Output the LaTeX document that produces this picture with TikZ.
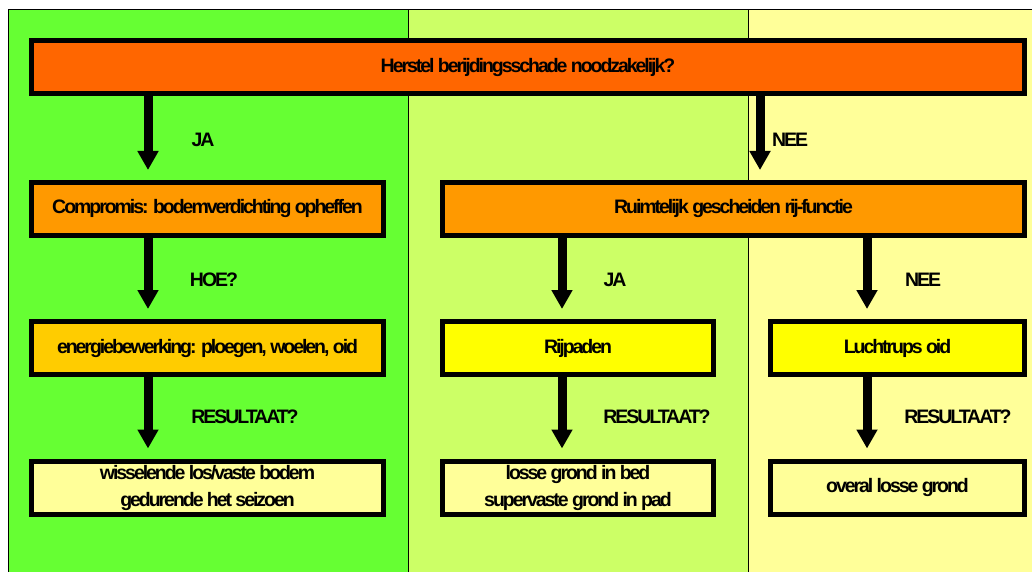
\documentclass[tikz,border=0pt]{standalone}
\usepackage{fontspec}
\setmainfont{Liberation Sans}
\newfontfamily\chartfont[LetterSpace=-10.5]{Liberation Sans Bold}
\usetikzlibrary{arrows.meta}

\definecolor{leftpanel}{HTML}{66FF33}
\definecolor{midpanel}{HTML}{CCFF66}
\definecolor{rightpanel}{HTML}{FFFF99}
\definecolor{question}{HTML}{FF6600}
\definecolor{choice}{HTML}{FF9900}
\definecolor{method}{HTML}{FFCC00}
\definecolor{option}{HTML}{FFFF00}
\definecolor{outcome}{HTML}{FFFF99}

\tikzset{
  panel/.style={draw=black, line width=1pt},
  box/.style={draw=black, line width=5pt, inner sep=0pt, align=center,
    font=\chartfont\fontsize{19.5}{27}\selectfont, minimum height=53pt},
  answer/.style={font=\chartfont\fontsize{19.5}{22}\selectfont, inner sep=0pt},
  flow/.style={line width=9pt, shorten >=10pt,
    -{Triangle[width=20pt,length=19pt]}},
}

\begin{document}
\begin{tikzpicture}[x=1pt,y=-1pt]
  \useasboundingbox (0,0) rectangle (1032,572);
  \fill[white] (0,0) rectangle (1032,572);

  % three coloured columns
  \begin{scope}
    \clip (0,0) rectangle (1032,572);
    \draw[panel, fill=leftpanel]  (8,10)   rectangle (408,590);
    \draw[panel, fill=midpanel]   (408,10) rectangle (748,590);
    \draw[panel, fill=rightpanel] (748,10) rectangle (1045,590);
  \end{scope}

  % boxes
  \node[box, fill=question, minimum width=993pt] (top) at (528,67.5)
    {Herstel berijdingsschade noodzakelijk?};
  \node[box, fill=choice, minimum width=352pt] (comp) at (207.5,209)
    {Compromis: bodemverdichting opheffen};
  \node[box, fill=choice, minimum width=582pt] (ruim) at (733.5,209)
    {Ruimtelijk gescheiden rij-functie};
  \node[box, fill=method, minimum width=352pt] (energ) at (207.5,348)
    {energiebewerking: ploegen, woelen, oid};
  \node[box, fill=option, minimum width=271pt] (rij) at (578,348)
    {Rijpaden};
  \node[box, fill=option, minimum width=254pt] (lucht) at (897.5,348)
    {Luchtrups oid};
  \node[box, fill=outcome, minimum width=352pt] (res1) at (207.5,487.5)
    {wisselende los/vaste bodem\\gedurende het seizoen};
  \node[box, fill=outcome, minimum width=271pt] (res2) at (578,487.5)
    {losse grond in bed\\supervaste grond in pad};
  \node[box, fill=outcome, minimum width=254pt] (res3) at (897.5,487.5)
    {overal losse grond};

  % arrow columns
  \coordinate (c1) at (148,0);
  \coordinate (c2) at (562,0);
  \coordinate (c3) at (867,0);
  \coordinate (c4) at (760,0);

  \draw[flow] (top.south -| c1) -- (comp.north -| c1);
  \draw[flow] (top.south -| c4) -- (ruim.north -| c4);
  \draw[flow] (comp.south -| c1) -- (energ.north -| c1);
  \draw[flow] (ruim.south -| c2) -- (rij.north -| c2);
  \draw[flow] (ruim.south -| c3) -- (lucht.north -| c3);
  \draw[flow] (energ.south -| c1) -- (res1.north -| c1);
  \draw[flow] (rij.south -| c2) -- (res2.north -| c2);
  \draw[flow] (lucht.south -| c3) -- (res3.north -| c3);

  % answers beside the arrows
  \node[answer] (ja1)  at (203,140) {JA};
  \node[answer] (nee1) at (790,140) {NEE};
  \node[answer] (hoe)  at (214,280) {HOE?};
  \node[answer] (ja2)  at (615,280) {JA};
  \node[answer] (nee2) at (923,280) {NEE};
  \node[answer] (r1)   at (245,417) {RESULTAAT?};
  \node[answer] (r2)   at (657,417) {RESULTAAT?};
  \node[answer] (r3)   at (958,417) {RESULTAAT?};
\end{tikzpicture}
\end{document}
